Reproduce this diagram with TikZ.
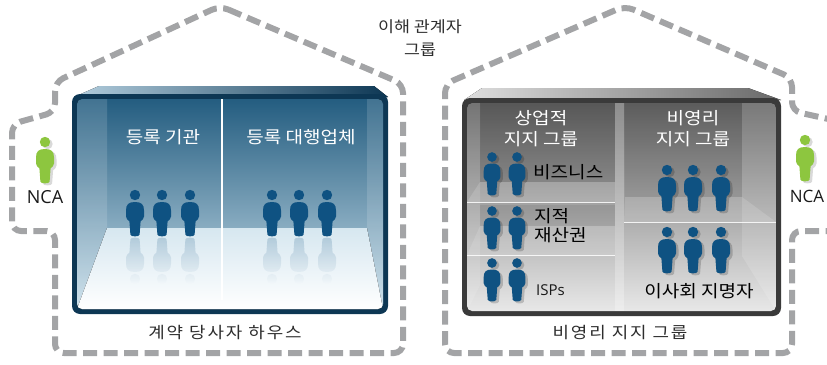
\documentclass[tikz,border=0pt]{standalone}
\usepackage{fontspec}
\newfontfamily\kr[FakeStretch=1.12]{Noto Sans CJK KR}
\newfontfamily\krwide[FakeStretch=1.12, LetterSpace=12]{Noto Sans CJK KR}
\newfontfamily\lat{Open Sans}
\usetikzlibrary{fadings}

\definecolor{rimblue}{RGB}{13,55,84}
\definecolor{walltop}{RGB}{36,93,128}
\definecolor{wallmid}{RGB}{105,152,182}
\definecolor{wallbot}{RGB}{200,222,234}
\definecolor{floortop}{RGB}{214,231,240}
\definecolor{bevlight}{RGB}{178,205,221}
\definecolor{rimgray}{RGB}{58,58,58}
\definecolor{gbevlight}{RGB}{222,222,222}
\definecolor{gbevdark}{RGB}{105,105,105}
\definecolor{gwalltop}{RGB}{98,98,98}
\definecolor{gwallbot}{RGB}{232,232,232}
\definecolor{pblue}{RGB}{15,82,130}
\definecolor{ncagreen}{RGB}{141,198,63}
\definecolor{dashgray}{RGB}{163,164,166}
\definecolor{captext}{RGB}{45,45,45}

\tikzset{
  person/.pic={
    \path[pic actions] (0,0) circle (5.2);
    \path[pic actions] (0,7) .. controls (-6.5,7) and (-9,9.5) .. (-9,15.5)
      -- (-9,21.5) .. controls (-9,24) and (-7,25) .. (-5.6,26.3)
      -- (-4.6,39.5) .. controls (-4.4,42) and (4.4,42) .. (4.6,39.5)
      -- (5.6,26.3) .. controls (7,25) and (9,24) .. (9,21.5)
      -- (9,15.5) .. controls (9,9.5) and (6.5,7) .. (0,7) -- cycle;
  },
  mirrored/.pic={
    \path[pic actions] (0,34.5) .. controls (-6.5,34.5) and (-9,32) .. (-9,26)
      -- (-9,20) .. controls (-9,17.5) and (-7,16.5) .. (-5.6,15.2)
      -- (-4.6,2) .. controls (-4.4,-0.5) and (4.4,-0.5) .. (4.6,2)
      -- (5.6,15.2) .. controls (7,16.5) and (9,17.5) .. (9,20)
      -- (9,26) .. controls (9,32) and (6.5,34.5) .. (0,34.5) -- cycle
      (0,41.5) circle (5.2);
  },
  fence/.style={draw=dashgray, line width=6pt, dash pattern=on 14pt off 6.5pt,
    rounded corners=9pt},
  krlabel/.style={font=\kr\fontsize{17}{21}\selectfont, inner sep=0pt, align=center},
  caption/.style={font=\krwide\fontsize{16}{20}\selectfont, text=captext, inner sep=0pt, align=center},
  ncalabel/.style={font=\lat\fontsize{18}{20}\selectfont, text=black!90, inner sep=0pt},
  sidelabel/.style={font=\kr\fontsize{17}{19}\selectfont, text=black, inner sep=0pt,
    anchor=west, align=left},
}

\begin{document}
\begin{tikzpicture}[x=1pt,y=-1pt]
\useasboundingbox (0,0) rectangle (827,364);
\clip (0,0) rectangle (827,364);

% ---------- dashed house outlines ----------
\draw[fence] (220,6) -- (403,84) -- (403,353) -- (55,353) -- (55,231)
  -- (12,231) -- (12,124) -- (55,112) -- (55,82) -- cycle;
\draw[fence] (860,231) -- (792,231) -- (792,353) -- (445,353) -- (445,84)
  -- (625,6) -- (792,78) -- (792,111) -- (860,126);

% ---------- registry box (blue) ----------
\fill[left color=bevlight, right color=rimblue] (74,97) -- (99,86) -- (374,86) -- (388,97) -- cycle;
\fill[rimblue, rounded corners=8pt] (72,94) rectangle (388,314);
\begin{scope}
  \clip[rounded corners=5pt] (77,99) rectangle (383,309);
  \fill[top color=walltop, middle color=wallmid, bottom color=wallbot] (77,99) rectangle (383,309);
  \fill[white, opacity=.14] (77,99) -- (107,99) -- (107,228) -- (77,309) -- cycle;
  \fill[white, opacity=.14] (367,99) -- (383,99) -- (383,309) -- (367,228) -- cycle;
  \fill[top color=floortop, middle color=white, bottom color=white]
    (107,228) -- (367,228) -- (383,309) -- (77,309) -- cycle;
  \draw[white, line width=1.6pt] (222,99) -- (222,300);
\end{scope}

\node[krlabel, text=white] (reg) at (163,137) {등록 기관};
\node[krlabel, text=white] (rar) at (301,137) {등록 대행업체};

\foreach \px in {135,162,190,272,299,327} {
  \pic[fill=pblue] at (\px,195) {person};
  \pic[fill=pblue, opacity=.2, path fading=south] at (\px,237.5) {mirrored};
}

\node[caption] (cph) at (225,333) {계약 당사자 하우스};

% ---------- stakeholder box (gray) ----------
\fill[left color=gbevlight, right color=gbevdark] (464,100) -- (482,88) -- (748,88) -- (781,100) -- cycle;
\fill[rimgray, rounded corners=8pt] (462,98) rectangle (781,316);
\begin{scope}
  \clip[rounded corners=5pt] (467,103) rectangle (776,311);
  \fill[top color=gwalltop, bottom color=gwallbot] (467,103) rectangle (776,311);
  % side walls
  \fill[white, opacity=.12] (467,103) -- (480,103) -- (480,285) -- (467,311) -- cycle;
  \fill[white, opacity=.15] (742,103) -- (776,103) -- (776,311) -- (742,256) -- cycle;
  % shelves of the left column
  \fill[black, opacity=.10] (480,103) rectangle (615,182);
  \fill[white, opacity=.15] (480,182) -- (615,182) -- (615,202) -- (467,202) -- cycle;
  \fill[black, opacity=.08] (480,205) rectangle (615,226);
  \fill[white, opacity=.12] (480,226) -- (615,226) -- (615,255) -- (467,255) -- cycle;
  % shelf of the right column
  \fill[black, opacity=.05] (625,103) rectangle (742,197);
  \fill[white, opacity=.14] (625,197) -- (742,197) -- (776,222) -- (624,222) -- cycle;
  % column divider
  \fill[white, opacity=.28] (615,103) rectangle (624,311);
  \draw[white, opacity=.85, line width=.9pt] (467,202) -- (615,202) (467,255) -- (615,255)
    (624,222) -- (776,222);
\end{scope}

\node[krlabel, text=white] (com) at (541,129) {상업적\\지지 그룹};
\node[krlabel, text=white] (npr) at (693,129) {비영리\\지지 그룹};

\foreach \py in {157,211,263} {
  \foreach \px in {492,517} {
    \pic[fill=black, opacity=.18, scale=.93] at (\px+2.5,\py+2) {person};
    \pic[fill=pblue, scale=.93] at (\px,\py) {person};
  }
}
\foreach \py in {170,232} {
  \foreach \px in {667,693,721} {
    \pic[fill=black, opacity=.18] at (\px+2.5,\py+2) {person};
    \pic[fill=pblue] at (\px,\py) {person};
  }
}

\node[sidelabel] (biz) at (533,172) {비즈니스};
\node[sidelabel] (ipr) at (534,226) {지적\\재산권};
\node[ncalabel, anchor=west] (isp) at (536,290) {\fontsize{15}{18}\selectfont ISPs};
\node[sidelabel, anchor=center] (bnm) at (699,291) {이사회 지명자};

\node[caption] (nsg) at (620,333) {비영리 지지 그룹};

% ---------- title ----------
\node[caption, font=\kr\fontsize{15.5}{22.5}\selectfont] (title) at (420,38) {이해 관계자\\그룹};

% ---------- NCA members ----------
\pic[fill=black, opacity=.15] at (47.5,144) {person};
\pic[fill=ncagreen] at (45,142) {person};
\node[ncalabel] (ncal) at (45,197) {NCA};
\pic[fill=black, opacity=.15] at (807.5,142) {person};
\pic[fill=ncagreen] at (805,140) {person};
\node[ncalabel, font=\lat\fontsize{17}{20}\selectfont] (ncar) at (807,196) {NCA};
\end{tikzpicture}
\end{document}
